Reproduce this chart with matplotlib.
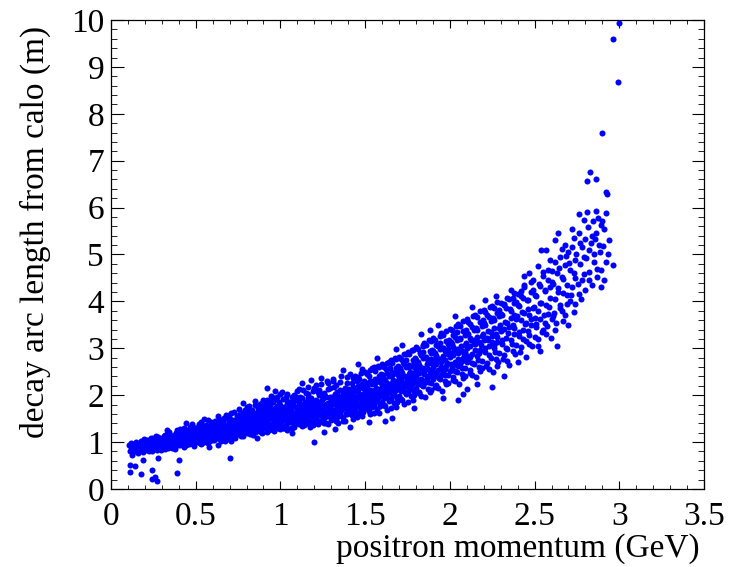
import numpy as np
import matplotlib
matplotlib.use("Agg")
import matplotlib.pyplot as plt
from matplotlib.ticker import MultipleLocator

# ---- data: (momentum GeV, decay arc length m) ----
outliers = [(0.125,0.73),(0.115,0.51),(0.144,0.50),(0.115,0.36),(0.18,0.32),(0.19,0.62),
            (0.24,0.41),(0.24,0.21),(0.26,0.26),(0.27,0.18),(0.28,0.67),(0.40,0.62),
            (0.39,0.34),(0.70,0.66),(1.20,1.01),(1.26,1.22)]

edge = [(0.55,1.50),(0.63,0.93),(0.78,1.84),(0.86,1.08),(0.97,2.10),(1.07,1.20),(1.13,2.25),
        (1.24,2.37),(1.32,1.28),(1.37,2.53),(1.46,2.66),(1.52,1.42),(1.57,2.80),(1.66,1.52),
        (1.72,3.08),(1.79,1.72),(1.83,3.30),(1.93,3.50),(1.96,1.95),(2.03,3.68),(2.08,2.02),
        (2.13,3.88),(2.21,4.02),(2.32,2.41),(2.10,2.13),(2.36,4.25),(2.44,4.55),(2.27,4.12),
        (2.05,1.90),(1.62,1.45),(1.41,1.33),(0.92,2.15),(1.18,2.32),(1.68,2.98),(1.88,3.38),
        (2.16,2.24),(2.53,2.95),(2.57,5.10),(2.62,5.30),(0.44,1.40),(0.33,1.25),(0.58,0.90),(0.71,1.02)]

seg_a = [(0.11,0.82),(0.12,0.90),(0.13,0.78),(0.14,0.95),(0.14,0.86),(0.12,0.99),
 (0.15,0.88),(0.16,0.80),(0.16,0.97),(0.17,0.91),(0.18,0.84),(0.18,1.02),(0.19,0.93),(0.19,0.79),
 (0.20,0.87),(0.20,0.99),(0.21,0.92),(0.21,0.83),(0.22,1.05),(0.22,0.95),(0.23,0.88),(0.23,1.01),(0.24,0.93),(0.24,0.82),
 (0.25,0.97),(0.25,1.08),(0.26,0.89),(0.26,1.02),(0.27,0.94),(0.27,0.84),(0.28,1.10),(0.28,0.99),(0.29,0.91),(0.29,1.04),(0.30,0.96),(0.30,0.87),
 (0.31,1.00),(0.31,1.12),(0.32,0.93),(0.32,0.86),(0.33,1.06),(0.33,0.98),(0.34,1.14),(0.34,0.90),(0.35,1.02),(0.35,0.95),(0.31,0.89),(0.33,1.17),
 (0.36,1.08),(0.36,0.88),(0.37,1.00),(0.37,1.16),(0.38,0.94),(0.38,1.05),(0.39,1.11),(0.39,0.97),(0.40,1.19),(0.40,1.02),(0.36,0.95),(0.38,0.86),(0.39,1.22),
 (0.41,0.93),(0.41,1.09),(0.42,1.15),(0.42,1.00),(0.43,0.90),(0.43,1.06),(0.44,1.24),(0.44,1.12),(0.45,0.97),(0.45,1.03),(0.41,1.27),(0.43,1.18),(0.44,0.94),
 (0.46,1.10),(0.46,1.20),(0.47,0.99),(0.47,1.31),(0.48,1.06),(0.48,1.14),(0.49,0.92),(0.49,1.25),(0.50,1.08),(0.50,1.17),(0.46,0.95),(0.48,1.35),(0.49,1.02),(0.47,1.13)]

seg_b = [(0.51,1.00),(0.51,1.22),(0.52,1.12),(0.52,1.38),(0.53,0.96),(0.53,1.07),(0.54,1.18),(0.54,1.29),(0.55,1.04),(0.55,1.14),(0.51,1.10),(0.53,1.25),(0.54,0.99),(0.52,1.03),
 (0.56,1.21),(0.56,1.09),(0.57,1.33),(0.57,0.98),(0.58,1.16),(0.58,1.26),(0.59,1.05),(0.59,1.43),(0.60,1.11),(0.60,1.22),(0.56,1.37),(0.57,1.13),(0.58,1.02),(0.59,1.19),(0.60,1.30),
 (0.61,1.15),(0.61,1.04),(0.62,1.27),(0.62,1.38),(0.63,1.09),(0.63,1.20),(0.64,1.49),(0.64,1.13),(0.65,1.31),(0.65,1.02),(0.61,1.24),(0.62,1.17),(0.63,1.42),(0.64,1.25),(0.65,1.19),
 (0.66,1.08),(0.66,1.23),(0.67,1.36),(0.67,1.14),(0.68,1.29),(0.68,1.52),(0.69,1.18),(0.69,1.06),(0.70,1.41),(0.70,1.26),(0.66,1.45),(0.67,1.21),(0.68,1.11),(0.69,1.33),(0.70,1.15),(0.68,1.58),
 (0.71,1.20),(0.71,1.34),(0.72,1.12),(0.72,1.47),(0.73,1.28),(0.73,1.09),(0.74,1.39),(0.74,1.22),(0.75,1.55),(0.75,1.17),(0.71,1.62),(0.72,1.25),(0.73,1.43),(0.74,1.31),(0.75,1.36),(0.72,1.15),
 (0.76,1.27),(0.76,1.44),(0.77,1.14),(0.77,1.35),(0.78,1.52),(0.78,1.23),(0.79,1.68),(0.79,1.30),(0.80,1.19),(0.80,1.41),(0.76,1.60),(0.77,1.26),(0.78,1.38),(0.79,1.47),(0.80,1.74),(0.78,1.12),(0.76,1.33),
 (0.81,1.29),(0.81,1.50),(0.82,1.17),(0.82,1.37),(0.83,1.64),(0.83,1.24),(0.84,1.45),(0.84,1.33),(0.85,1.80),(0.85,1.21),(0.81,1.40),(0.82,1.58),(0.83,1.31),(0.84,1.55),(0.85,1.42),(0.81,1.70),(0.84,1.15),
 (0.86,1.35),(0.86,1.23),(0.87,1.52),(0.87,1.66),(0.88,1.30),(0.88,1.44),(0.89,1.19),(0.89,1.58),(0.90,1.37),(0.90,1.90),(0.86,1.48),(0.87,1.27),(0.88,1.75),(0.89,1.41),(0.90,1.29),(0.86,1.62),(0.88,1.54),(0.89,1.84),
 (0.91,1.46),(0.91,1.32),(0.92,1.22),(0.92,1.61),(0.93,1.39),(0.93,1.53),(0.94,1.71),(0.94,1.28),(0.95,1.49),(0.95,1.96),(0.91,1.82),(0.92,1.43),(0.93,1.26),(0.94,1.57),(0.95,1.36),(0.91,1.65),(0.93,1.88),(0.92,1.52),
 (0.96,1.42),(0.96,1.24),(0.97,1.59),(0.97,1.34),(0.98,1.77),(0.98,1.48),(0.99,1.31),(0.99,1.63),(1.00,1.51),(1.00,2.02),(0.96,1.69),(0.97,1.92),(0.98,1.38),(0.99,1.85),(1.00,1.27),(0.96,1.55),(0.98,1.60),(0.99,1.45)]

seg_c = [(1.01,1.36),(1.01,1.58),(1.02,1.29),(1.02,1.74),(1.03,1.47),(1.03,1.97),(1.04,1.62),(1.04,1.40),(1.05,1.53),(1.05,1.83),(1.01,2.06),(1.02,1.50),(1.03,1.33),(1.04,1.88),(1.05,1.44),(1.01,1.68),(1.03,1.60),(1.04,1.26),
 (1.06,1.31),(1.06,1.66),(1.07,1.49),(1.07,1.78),(1.08,1.38),(1.08,2.01),(1.09,1.57),(1.09,1.90),(1.10,1.45),(1.10,1.71),(1.06,1.53),(1.07,1.30),(1.08,1.63),(1.09,1.41),(1.10,2.10),(1.06,1.86),(1.08,1.52),(1.09,1.74),
 (1.11,1.39),(1.11,1.62),(1.12,1.77),(1.12,1.48),(1.13,1.34),(1.13,1.94),(1.14,1.56),(1.14,1.69),(1.15,1.43),(1.15,2.05),(1.11,1.85),(1.12,1.59),(1.13,1.72),(1.14,1.37),(1.15,1.64),(1.11,2.13),(1.13,1.51),(1.14,1.81),
 (1.16,1.47),(1.16,1.70),(1.17,1.58),(1.17,1.38),(1.18,1.89),(1.18,1.65),(1.19,1.52),(1.19,2.08),(1.20,1.76),(1.20,1.41),(1.16,1.95),(1.17,1.82),(1.18,1.44),(1.19,1.67),(1.20,1.59),(1.16,2.18),(1.18,1.74),(1.19,1.36),
 (1.21,1.63),(1.21,1.50),(1.22,1.85),(1.22,1.39),(1.23,1.72),(1.23,2.00),(1.24,1.57),(1.24,1.46),(1.25,1.93),(1.25,1.68),(1.21,2.22),(1.22,1.61),(1.23,1.43),(1.24,1.79),(1.25,1.54),(1.21,1.90),(1.23,2.12),(1.24,1.66),
 (1.26,1.76),(1.26,1.52),(1.27,1.96),(1.27,1.41),(1.28,1.69),(1.28,1.83),(1.29,1.58),(1.29,2.15),(1.30,1.47),(1.30,1.88),(1.26,2.05),(1.27,1.64),(1.28,1.38),(1.29,1.78),(1.30,1.71),(1.26,1.61),(1.28,2.27),(1.29,1.93),
 (1.31,1.55),(1.31,1.82),(1.32,1.67),(1.32,2.02),(1.33,1.44),(1.33,1.91),(1.34,1.74),(1.34,1.60),(1.35,2.11),(1.35,1.79),(1.31,2.34),(1.32,1.50),(1.33,1.70),(1.34,1.98),(1.35,1.62),(1.31,1.87),(1.33,2.21),(1.34,1.40),
 (1.36,1.68),(1.36,1.93),(1.37,1.53),(1.37,2.07),(1.38,1.81),(1.38,1.72),(1.39,2.25),(1.39,1.59),(1.40,1.86),(1.40,1.97),(1.36,2.40),(1.37,1.76),(1.38,1.46),(1.39,1.90),(1.40,1.64),(1.36,1.83),(1.38,2.15),(1.39,2.02),
 (1.41,1.73),(1.41,2.04),(1.42,1.89),(1.42,1.57),(1.43,2.18),(1.43,1.80),(1.44,1.66),(1.44,1.96),(1.45,2.30),(1.45,1.84),(1.41,2.45),(1.42,1.71),(1.43,1.50),(1.44,2.10),(1.45,1.62),(1.41,1.92),(1.43,2.36),(1.44,1.78),
 (1.46,1.77),(1.46,2.12),(1.47,1.95),(1.47,1.61),(1.48,2.24),(1.48,1.87),(1.49,1.70),(1.49,2.03),(1.50,2.50),(1.50,1.91),(1.46,2.38),(1.47,1.82),(1.48,1.55),(1.49,2.16),(1.50,1.74),(1.46,1.99),(1.48,2.55),(1.49,1.86)]

seg_d = [(1.51,1.82),(1.51,2.19),(1.52,1.98),(1.52,1.66),(1.53,2.31),(1.53,1.90),(1.54,2.08),(1.54,1.75),(1.55,2.60),(1.55,2.00),(1.51,2.46),(1.52,1.87),(1.53,1.59),(1.54,2.24),(1.55,1.79),(1.51,2.05),(1.53,2.53),(1.54,1.94),
 (1.56,1.88),(1.56,2.27),(1.57,2.05),(1.57,1.71),(1.58,2.40),(1.58,1.97),(1.59,2.14),(1.59,1.81),(1.60,2.66),(1.60,2.09),(1.56,2.52),(1.57,1.93),(1.58,1.63),(1.59,2.33),(1.60,1.85),(1.56,2.11),(1.58,2.60),(1.59,2.01),
 (1.61,1.95),(1.61,2.35),(1.62,2.13),(1.62,1.76),(1.63,2.48),(1.63,2.04),(1.64,2.22),(1.64,1.88),(1.65,2.74),(1.65,2.16),(1.61,2.60),(1.62,2.00),(1.63,1.68),(1.64,2.41),(1.65,1.92),(1.61,2.19),(1.63,2.69),(1.64,2.08),
 (1.66,2.02),(1.66,2.43),(1.67,2.21),(1.67,1.83),(1.68,2.57),(1.68,2.11),(1.69,2.30),(1.69,1.95),(1.70,2.82),(1.70,2.24),(1.66,2.68),(1.67,2.07),(1.68,1.75),(1.69,2.50),(1.70,1.99),(1.66,2.27),(1.68,2.77),(1.69,2.15),
 (1.71,2.09),(1.71,2.52),(1.72,2.29),(1.72,1.90),(1.73,2.66),(1.73,2.18),(1.74,2.39),(1.74,2.02),(1.75,2.92),(1.75,2.33),(1.71,2.78),(1.72,2.14),(1.73,1.82),(1.74,2.60),(1.75,2.07),(1.71,2.36),(1.73,2.87),(1.74,2.23),
 (1.76,2.16),(1.76,2.61),(1.77,2.38),(1.77,1.98),(1.78,2.75),(1.78,2.26),(1.79,2.48),(1.79,2.10),(1.80,3.02),(1.80,2.42),(1.76,2.88),(1.77,2.22),(1.78,1.90),(1.79,2.69),(1.80,2.15),(1.76,2.45),(1.78,2.97),(1.79,2.31),
 (1.81,2.24),(1.81,2.70),(1.82,2.47),(1.82,2.06),(1.83,2.85),(1.83,2.35),(1.84,2.58),(1.84,2.19),(1.85,3.12),(1.85,2.52),(1.81,2.98),(1.82,2.30),(1.83,1.98),(1.84,2.79),(1.85,2.25),(1.82,2.63),(1.84,3.05),
 (1.86,2.32),(1.86,2.80),(1.87,2.56),(1.87,2.14),(1.88,2.95),(1.88,2.44),(1.89,2.68),(1.89,2.27),(1.90,3.22),(1.90,2.61),(1.86,3.08),(1.87,2.39),(1.88,2.07),(1.89,2.89),(1.90,2.35),(1.87,2.73),(1.89,3.16),
 (1.91,2.41),(1.91,2.90),(1.92,2.66),(1.92,2.22),(1.93,3.05),(1.93,2.53),(1.94,2.78),(1.94,2.35),(1.95,3.32),(1.95,2.71),(1.91,3.18),(1.92,2.47),(1.93,2.15),(1.94,2.99),(1.95,2.44),(1.92,2.84),
 (1.96,2.49),(1.96,3.00),(1.97,2.75),(1.97,2.30),(1.98,3.15),(1.98,2.62),(1.99,2.88),(1.99,2.43),(2.00,3.42),(2.00,2.81),(1.96,3.28),(1.97,2.56),(1.98,2.23),(1.99,3.09),(2.00,2.52),(1.97,2.94)]

seg_e = [(2.01,2.58),(2.01,3.10),(2.02,2.85),(2.02,2.38),(2.03,3.25),(2.03,2.70),(2.04,2.98),(2.04,2.50),(2.05,3.52),(2.05,2.91),(2.01,3.38),(2.02,2.64),(2.03,2.30),(2.04,3.18),(2.05,2.62),
 (2.06,2.67),(2.06,3.20),(2.07,2.95),(2.07,2.45),(2.08,3.36),(2.08,2.79),(2.09,3.07),(2.09,2.58),(2.10,3.62),(2.10,3.00),(2.06,3.47),(2.07,2.73),(2.08,2.37),(2.09,3.29),(2.10,2.70),
 (2.11,2.75),(2.11,3.30),(2.12,3.05),(2.12,2.53),(2.13,3.46),(2.13,2.88),(2.14,3.17),(2.14,2.66),(2.15,3.72),(2.15,3.09),(2.11,3.57),(2.12,2.81),(2.13,2.44),(2.14,3.39),
 (2.16,2.84),(2.16,3.40),(2.17,3.14),(2.17,2.61),(2.18,3.56),(2.18,2.97),(2.19,3.26),(2.19,2.73),(2.20,3.82),(2.20,3.18),(2.16,3.67),(2.17,2.90),(2.18,2.51),(2.19,3.48),
 (2.21,2.92),(2.21,3.50),(2.22,3.22),(2.22,2.68),(2.23,3.66),(2.23,3.05),(2.24,3.35),(2.24,2.80),(2.25,3.90),(2.25,3.27),(2.21,3.77),(2.23,2.55),(2.24,3.58),(2.25,2.17),
 (2.26,3.01),(2.26,3.60),(2.27,3.31),(2.27,2.77),(2.28,3.76),(2.28,3.13),(2.29,3.44),(2.29,2.89),(2.30,3.97),(2.30,3.36),(2.26,3.86),(2.28,2.63),(2.29,3.68),
 (2.31,3.09),(2.31,3.70),(2.32,3.41),(2.32,2.85),(2.33,3.86),(2.33,3.22),(2.34,3.53),(2.34,2.98),(2.35,4.05),(2.35,3.46),(2.32,3.95),(2.34,2.72),
 (2.36,3.18),(2.36,3.80),(2.37,3.50),(2.37,2.94),(2.38,3.96),(2.38,3.31),(2.39,3.63),(2.39,3.07),(2.40,4.15),(2.40,2.70),(2.37,4.08),(2.38,3.72),
 (2.41,3.27),(2.41,3.90),(2.42,3.60),(2.42,3.02),(2.43,4.07),(2.43,3.40),(2.44,3.75),(2.44,4.30),(2.45,3.16),(2.45,3.55),(2.42,4.22),
 (2.46,3.36),(2.46,4.02),(2.47,3.70),(2.47,3.10),(2.48,4.20),(2.48,3.50),(2.49,3.86),(2.49,4.45),(2.50,3.25),(2.50,3.64),(2.47,4.60)]

seg_f = [(2.51,3.45),(2.51,4.12),(2.52,3.80),(2.52,3.20),(2.53,4.32),(2.53,3.62),(2.54,5.09),(2.54,3.96),(2.55,4.55),(2.55,3.38),(2.52,4.75),
 (2.56,3.55),(2.56,4.25),(2.57,3.92),(2.57,3.30),(2.58,4.45),(2.58,3.74),(2.59,4.88),(2.59,4.08),(2.60,3.62),(2.60,4.65),
 (2.61,3.68),(2.61,4.38),(2.62,4.05),(2.62,3.40),(2.63,4.60),(2.63,3.05),(2.64,5.46),(2.64,4.20),(2.65,3.85),(2.65,4.95),
 (2.66,3.80),(2.66,4.52),(2.67,4.18),(2.67,3.58),(2.68,4.78),(2.68,5.20),(2.69,4.35),(2.69,3.95),(2.70,5.05),
 (2.71,4.00),(2.71,4.68),(2.72,5.55),(2.72,4.30),(2.73,5.36),(2.73,3.78),(2.74,4.88),(2.74,4.50),
 (2.76,5.87),(2.76,4.15),(2.77,4.80),(2.77,5.25),(2.78,4.45),(2.79,5.74),(2.79,4.95),(2.80,4.25),
 (2.81,6.57),(2.81,5.90),(2.82,5.10),(2.82,4.62),(2.83,6.76),(2.84,5.40),(2.84,4.35),(2.85,5.00),
 (2.86,6.61),(2.86,5.92),(2.86,5.45),(2.87,4.70),(2.88,5.20),(2.89,4.31),(2.89,5.62),
 (2.90,5.71),(2.91,5.55),(2.92,6.33),(2.92,4.84),(2.93,6.28),(2.94,5.30),
 (2.96,4.77),(2.96,9.59),(2.99,8.67),(3.00,9.94),(2.90,7.60)]

fill_low = [(0.105,0.93),(0.132,0.84),(0.147,1.01),(0.158,0.77),(0.171,0.97),(0.186,0.89),(0.197,1.06),(0.123,0.95),(0.165,0.85),
 (0.205,1.04),(0.213,0.90),(0.227,0.81),(0.238,1.09),(0.246,0.97),(0.254,0.86),(0.263,1.12),(0.272,1.01),(0.281,0.92),(0.293,1.06),(0.298,0.83),(0.218,0.98),(0.257,0.94),
 (0.303,1.08),(0.309,0.94),(0.318,1.16),(0.326,1.03),(0.337,0.88),(0.344,1.21),(0.351,1.09),(0.358,0.99),(0.366,1.13),(0.373,0.91),(0.384,1.19),(0.392,1.05),(0.397,0.93),(0.329,0.97),(0.362,1.02),(0.387,1.26),
 (0.404,1.13),(0.412,1.22),(0.419,0.96),(0.428,1.30),(0.434,1.08),(0.447,1.17),(0.452,1.26),(0.458,1.00),(0.466,1.33),(0.473,1.07),(0.481,1.22),(0.488,0.98),(0.494,1.29),(0.437,1.02),(0.461,1.15),(0.416,1.05),(0.477,1.38),
 (0.503,1.27),(0.509,1.05),(0.516,1.33),(0.524,1.18),(0.531,1.42),(0.538,1.11),(0.546,1.35),(0.553,1.23),(0.561,1.01),(0.567,1.26),(0.574,1.47),(0.582,1.09),(0.588,1.35),(0.595,1.24),(0.527,0.99),(0.557,1.16),(0.579,1.29),(0.598,1.04),
 (0.604,1.36),(0.611,1.45),(0.617,1.09),(0.626,1.32),(0.633,1.55),(0.639,1.27),(0.646,1.06),(0.654,1.40),(0.661,1.29),(0.667,1.51),(0.673,1.03),(0.681,1.37),(0.688,1.24),(0.694,1.46),(0.622,1.21),(0.649,1.34),(0.676,1.17),(0.699,1.57),(0.637,1.13),
 (0.703,1.50),(0.708,1.22),(0.716,1.39),(0.724,1.64),(0.729,1.33),(0.736,1.18),(0.743,1.56),(0.749,1.44),(0.757,1.71),(0.762,1.20),(0.769,1.49),(0.774,1.62),(0.783,1.31),(0.788,1.43),(0.796,1.57),(0.714,1.28),(0.738,1.47),(0.766,1.36),(0.791,1.25),(0.752,1.29),
 (0.804,1.56),(0.809,1.33),(0.816,1.77),(0.823,1.46),(0.827,1.26),(0.834,1.68),(0.842,1.39),(0.847,1.87),(0.853,1.50),(0.859,1.30),(0.866,1.72),(0.871,1.43),(0.877,1.59),(0.884,1.22),(0.889,1.66),(0.896,1.49),(0.812,1.64),(0.838,1.53),(0.862,1.41),(0.881,1.81),(0.893,1.35),
 (0.903,1.57),(0.907,1.74),(0.914,1.40),(0.921,1.89),(0.926,1.56),(0.933,1.33),(0.939,1.79),(0.944,1.64),(0.951,1.27),(0.957,1.86),(0.962,1.51),(0.969,1.73),(0.974,1.40),(0.982,1.96),(0.987,1.66),(0.993,1.54),(0.917,1.48),(0.947,1.99),(0.978,1.29),(0.996,1.80),(0.928,1.67)]

fill_mid = [(1.004,1.74),(1.011,1.48),(1.017,1.91),(1.023,1.64),(1.028,1.35),(1.036,1.81),(1.041,2.03),(1.047,1.55),(1.053,1.69),(1.058,1.42),(1.066,1.96),(1.071,1.60),(1.077,1.84),(1.082,1.33),(1.088,1.75),(1.094,1.97),(1.098,1.58),(1.014,1.30),(1.044,1.72),(1.062,1.82),(1.086,1.47),
 (1.104,1.54),(1.108,1.80),(1.116,1.97),(1.121,1.42),(1.127,1.66),(1.133,2.12),(1.139,1.60),(1.146,1.86),(1.152,1.50),(1.157,1.77),(1.163,2.02),(1.168,1.61),(1.176,1.33),(1.181,1.95),(1.187,1.70),(1.193,1.83),(1.198,1.49),(1.118,1.72),(1.142,1.39),(1.171,1.88),(1.196,2.16),
 (1.203,1.87),(1.209,1.69),(1.214,1.44),(1.222,2.07),(1.227,1.77),(1.234,1.58),(1.238,2.23),(1.246,1.90),(1.253,1.63),(1.258,1.41),(1.263,1.98),(1.271,1.82),(1.277,1.55),(1.283,2.13),(1.287,1.74),(1.294,1.97),(1.298,1.51),(1.218,1.56),(1.249,2.02),(1.274,2.30),(1.291,1.64),
 (1.303,1.96),(1.308,1.63),(1.316,2.17),(1.322,1.81),(1.327,1.48),(1.334,2.06),(1.341,1.88),(1.346,1.56),(1.352,2.28),(1.358,1.72),(1.364,1.99),(1.369,1.45),(1.376,2.12),(1.382,1.91),(1.387,1.63),(1.393,2.38),(1.398,1.78),(1.313,2.31),(1.338,1.69),(1.361,1.84),(1.391,2.05),
 (1.404,2.14),(1.409,1.81),(1.414,1.60),(1.422,2.27),(1.427,1.99),(1.434,1.70),(1.439,2.42),(1.446,1.92),(1.451,1.53),(1.457,2.20),(1.463,2.03),(1.469,1.73),(1.476,2.47),(1.481,1.94),(1.487,1.65),(1.493,2.31),(1.498,2.07),(1.417,2.06),(1.443,1.85),(1.466,2.35),(1.489,1.80),
 (1.503,2.26),(1.508,1.93),(1.516,1.70),(1.521,2.40),(1.527,2.11),(1.533,1.82),(1.539,2.57),(1.546,2.02),(1.551,1.61),(1.558,2.34),(1.563,2.16),(1.569,1.87),(1.576,2.62),(1.582,2.07),(1.586,1.76),(1.593,2.45),(1.598,2.21),(1.513,2.14),(1.544,2.31),(1.572,1.99),(1.589,2.29),
 (1.603,2.44),(1.608,2.05),(1.614,1.80),(1.622,2.55),(1.627,2.27),(1.633,1.94),(1.639,2.71),(1.646,2.15),(1.652,1.72),(1.657,2.49),(1.663,2.32),(1.668,2.00),(1.676,2.79),(1.681,2.22),(1.687,1.86),(1.693,2.62),(1.698,2.38),(1.618,2.33),(1.644,2.59),(1.671,2.13),(1.689,2.46),
 (1.703,2.58),(1.709,2.18),(1.714,1.92),(1.722,2.71),(1.727,2.42),(1.734,2.06),(1.741,2.88),(1.746,2.30),(1.752,1.85),(1.757,2.64),(1.763,2.49),(1.768,2.13),(1.776,2.96),(1.781,2.36),(1.787,2.00),(1.793,2.79),(1.798,2.54),(1.717,2.47),(1.744,2.75),(1.771,2.27),(1.789,2.61),
 (1.803,2.76),(1.808,2.33),(1.816,2.05),(1.821,2.89),(1.827,2.59),(1.833,2.21),(1.839,3.07),(1.846,2.45),(1.851,1.97),(1.857,2.82),(1.863,2.66),(1.869,2.28),(1.874,3.17),(1.882,2.51),(1.887,2.12),(1.893,2.97),(1.898,2.72),(1.818,2.64),(1.843,2.93),(1.866,2.41),(1.889,2.77),
 (1.903,2.94),(1.909,2.49),(1.914,2.18),(1.921,3.08),(1.927,2.77),(1.933,2.37),(1.939,3.27),(1.946,2.61),(1.952,2.10),(1.957,3.01),(1.962,2.84),(1.969,2.43),(1.976,3.37),(1.982,2.68),(1.987,2.26),(1.993,3.17),(1.998,2.91),(1.917,2.83),(1.944,3.12),(1.966,2.56),(1.991,2.98)]

fill_high = [(2.004,3.13),(2.009,2.66),(2.016,2.33),(2.021,3.29),(2.027,2.97),(2.033,2.52),(2.039,3.47),(2.046,2.78),(2.052,2.24),(2.057,3.22),(2.063,3.04),(2.069,2.59),(2.076,3.58),(2.081,2.87),(2.087,2.41),(2.093,3.38),(2.098,3.11),(2.018,3.02),(2.044,3.34),(2.066,2.74),(2.091,2.92),
 (2.104,3.33),(2.109,2.83),(2.116,2.47),(2.121,3.51),(2.127,3.17),(2.133,2.69),(2.139,3.68),(2.146,2.96),(2.152,2.38),(2.157,3.43),(2.163,3.24),(2.169,2.76),(2.176,3.79),(2.181,3.06),(2.187,2.57),(2.193,3.60),(2.198,3.31),(2.118,3.23),(2.144,3.12),(2.172,2.93),
 (2.204,3.53),(2.209,3.00),(2.216,2.62),(2.221,3.72),(2.227,3.37),(2.233,2.85),(2.239,3.89),(2.246,3.14),(2.252,2.49),(2.257,3.64),(2.263,3.44),(2.269,2.93),(2.276,3.98),(2.281,3.24),(2.287,2.71),(2.293,3.81),(2.298,3.50),(2.224,3.18),(2.261,3.08),
 (2.304,3.73),(2.309,3.17),(2.316,2.77),(2.321,3.92),(2.327,3.57),(2.333,3.01),(2.339,4.08),(2.346,3.33),(2.352,2.64),(2.357,3.84),(2.363,3.64),(2.369,3.10),(2.376,4.17),(2.381,3.43),(2.387,2.87),(2.393,3.99),(2.398,3.69),
 (2.404,3.93),(2.409,3.34),(2.416,2.93),(2.421,4.12),(2.427,3.77),(2.433,3.19),(2.439,4.36),(2.446,3.52),(2.452,2.82),(2.457,4.04),(2.463,3.84),(2.469,3.28),(2.476,4.41),(2.481,3.62),(2.487,3.05),(2.493,4.24),(2.498,3.89),
 (2.504,4.13),(2.511,3.52),(2.519,3.05),(2.526,4.38),(2.533,3.96),(2.541,3.35),(2.548,4.62),(2.556,3.71),(2.563,4.22),(2.571,3.47),(2.579,4.66),(2.586,3.88),(2.593,4.31),(2.598,3.22),
 (2.604,4.42),(2.613,3.76),(2.621,4.83),(2.628,3.55),(2.636,4.28),(2.644,4.71),(2.652,3.92),(2.661,5.12),(2.669,4.47),(2.677,3.71),(2.684,4.96),(2.692,4.14),(2.698,3.50),
 (2.704,4.81),(2.713,4.13),(2.722,5.16),(2.731,4.61),(2.739,3.94),(2.747,5.02),(2.756,4.37),(2.764,5.45),(2.772,4.06),(2.781,5.17),(2.789,4.58),(2.797,5.32),
 (2.804,4.92),(2.813,5.58),(2.822,4.46),(2.831,5.24),(2.842,5.71),(2.851,4.83),(2.858,5.33),(2.867,4.52),(2.876,5.78),(2.884,5.06),(2.893,4.67),
 (2.903,5.18),(2.912,4.46),(2.921,5.88),(2.934,5.02)]

x_label = "positron momentum (GeV)"
y_label = "decay arc length from calo (m)"
x_ticks = [0, 0.5, 1, 1.5, 2, 2.5, 3, 3.5]
x_tick_labels = ["0", "0.5", "1", "1.5", "2", "2.5", "3", "3.5"]
y_ticks = list(range(0, 11))

pts = np.array(outliers + edge + seg_a + seg_b + seg_c + seg_d + seg_e + seg_f
               + fill_low + fill_mid + fill_high)
px, py = pts[:, 0], pts[:, 1]

plt.rcParams['font.family'] = ['Liberation Serif', 'DejaVu Serif']
fig = plt.figure(figsize=(7.36, 5.67), dpi=100)
ax = fig.add_axes([111/736, 1-489/567, (704-111)/736, (489-20)/567])

ax.scatter(px, py, s=19, c='#0000ff', linewidths=0, zorder=3)

ax.set_xlim(0, 3.5)
ax.set_ylim(0, 10)
ax.set_xticks(x_ticks)
ax.set_xticklabels(x_tick_labels)
ax.set_yticks(y_ticks)
ax.xaxis.set_minor_locator(MultipleLocator(0.1))
ax.yaxis.set_minor_locator(MultipleLocator(0.2))
ax.tick_params(which='both', direction='in', top=True, right=True, labelsize=24, colors='black')
ax.tick_params(axis='x', which='major', length=6, pad=9)
ax.tick_params(axis='x', which='minor', length=3)
ax.tick_params(axis='y', which='major', length=9, pad=5)
ax.tick_params(axis='y', which='minor', length=4.5)
for sp in ax.spines.values():
    sp.set_linewidth(0.9)

ax.set_xlabel(x_label, fontsize=24, loc='right')
ax.xaxis.set_label_coords((700-111)/593, -0.095)
ax.set_ylabel(y_label, fontsize=24, loc='top', va='center')
ax.yaxis.set_label_coords(-0.128, (489-26)/469)

fig.savefig("out.png", dpi=100)
